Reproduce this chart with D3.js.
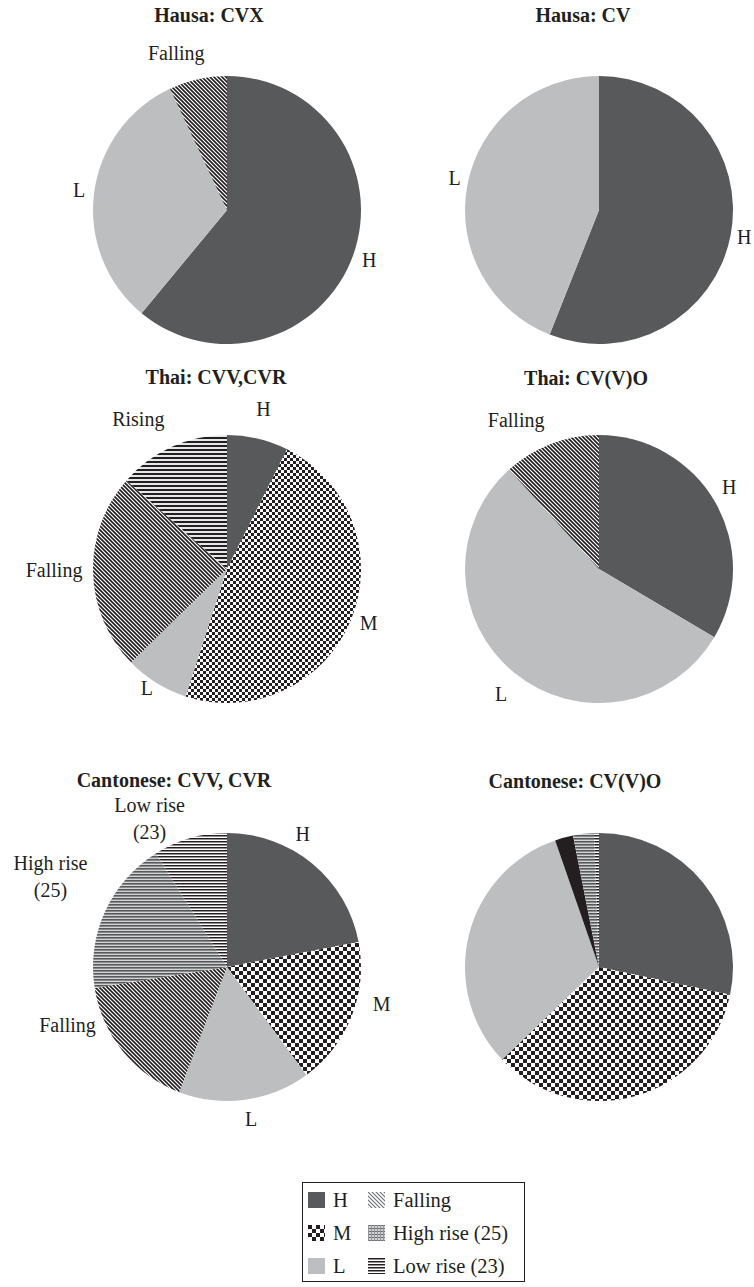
<!DOCTYPE html>
<html>
<head>
<meta charset="utf-8">
<script src="https://cdn.jsdelivr.net/npm/d3@7"></script>
<style>
  html, body { margin: 0; padding: 0; background: #fff; }
  svg text { fill: #231f20; font-size: 20px; }
  svg text.title { font-weight: bold; }
</style>
</head>
<body>
<svg id="chart" width="754" height="1287" font-family="'Liberation Serif', 'Times New Roman', Times, serif"></svg>
<script>
// Tone shares (%) per syllable type, clockwise from 12 o'clock
const hausaCVXTones = ["H", "L", "Falling"];
const hausaCVXShares = [61, 32, 7];

const hausaCVTones = ["H", "L"];
const hausaCVShares = [56, 44];

const thaiCVVTones = ["H", "M", "L", "Falling", "Rising"];
const thaiCVVShares = [7.4, 47.6, 7.7, 23.8, 13.5];

const thaiCVOTones = ["H", "L", "Falling"];
const thaiCVOShares = [33.5, 54.8, 11.7];

const cantoCVVTones = ["H", "M", "L", "Falling", "High rise (25)", "Low rise (23)"];
const cantoCVVShares = [22, 17.9, 15.9, 16.7, 18.6, 8.9];

const cantoCVOTones = ["H", "M", "L", "Falling", "High rise (25)", "Low rise (23)"];
const cantoCVOShares = [28.3, 34.5, 31.8, 2.2, 2.5, 0.6];

const panelTitles = ["Hausa: CVX", "Hausa: CV", "Thai: CVV,CVR", "Thai: CV(V)O",
                     "Cantonese: CVV, CVR", "Cantonese: CV(V)O"];

const legendTones = ["H", "M", "L", "Falling", "High rise (25)", "Low rise (23)"];

// ---- layout -------------------------------------------------------------
const R = 134;
const colX = [227, 599];
const rowY = [210, 569, 967];
const titlePos = [[209, 22], [583, 22], [216, 384], [586, 385], [174, 787], [575, 788]];
// fine adjustments of the outside slice labels (dx, dy)
const labelNudges = [
  [[1, -1], [1, -1], [-18, -11]],
  [[-2, -1], [3, -4]],
  [[2, -14], [3, -3], [-1, -8], [-23, -3], [-27, -13]],
  [[0, -8], [-3, 9], [-29, -9]],
  [[-20, -17], [15, -18], [4, 3], [-43, -37], [-40, -28], [-36, -4]],
  null
];

const panels = [
  { tones: hausaCVXTones, shares: hausaCVXShares, style: "plain" },
  { tones: hausaCVTones, shares: hausaCVShares, style: "plain" },
  { tones: thaiCVVTones, shares: thaiCVVShares, style: "fine" },
  { tones: thaiCVOTones, shares: thaiCVOShares, style: "fine" },
  { tones: cantoCVVTones, shares: cantoCVVShares, style: "coarse" },
  { tones: cantoCVOTones, shares: cantoCVOShares, style: "dark" }
].map((p, i) => ({
  ...p,
  title: panelTitles[i],
  titleAt: titlePos[i],
  cx: colX[i % 2],
  cy: rowY[Math.floor(i / 2)],
  nudges: labelNudges[i]
}));

const svg = d3.select("#chart");
const defs = svg.append("defs");
const INK = "#231f20";

// ---- fill patterns --------------------------------------------------------
function pattern(id, w, h, build) {
  const p = defs.append("pattern").attr("id", id)
    .attr("patternUnits", "userSpaceOnUse").attr("width", w).attr("height", h);
  build(p);
}
pattern("diag", 4, 4, p => {
  p.append("rect").attr("width", 4).attr("height", 4).attr("fill", "#fff");
  p.append("path").attr("d", "M-1,-1L5,5M-1,3L1,5M3,-1L5,1")
    .attr("stroke", INK).attr("stroke-width", 1.6);
});
pattern("diagLight", 4, 4, p => {
  p.append("rect").attr("width", 4).attr("height", 4).attr("fill", "#fff");
  p.append("path").attr("d", "M-1,-1L5,5M-1,3L1,5M3,-1L5,1")
    .attr("stroke", "#6d6e71").attr("stroke-width", 1.1);
});
pattern("checker4", 8, 8, p => {
  p.append("rect").attr("width", 8).attr("height", 8).attr("fill", "#fff");
  p.append("rect").attr("width", 4).attr("height", 4).attr("fill", INK);
  p.append("rect").attr("x", 4).attr("y", 4).attr("width", 4).attr("height", 4).attr("fill", INK);
});
pattern("checker3", 6, 6, p => {
  p.append("rect").attr("width", 6).attr("height", 6).attr("fill", "#fff");
  p.append("rect").attr("width", 3).attr("height", 3).attr("fill", INK);
  p.append("rect").attr("x", 3).attr("y", 3).attr("width", 3).attr("height", 3).attr("fill", INK);
});
pattern("hlines4", 4, 4, p => {
  p.append("rect").attr("width", 4).attr("height", 4).attr("fill", "#e6e7e8");
  p.append("rect").attr("width", 4).attr("height", 2).attr("fill", INK);
});
pattern("hlines3", 3, 3, p => {
  p.append("rect").attr("width", 3).attr("height", 3).attr("fill", "#fff");
  p.append("rect").attr("width", 3).attr("height", 1.5).attr("fill", INK);
});
pattern("hgray", 3, 3, p => {
  p.append("rect").attr("width", 3).attr("height", 3).attr("fill", "#d1d3d4");
  p.append("rect").attr("width", 3).attr("height", 1.6).attr("fill", "#58595b");
});
pattern("grid", 3, 3, p => {
  p.append("rect").attr("width", 3).attr("height", 3).attr("fill", "#d1d3d4");
  p.append("rect").attr("width", 3).attr("height", 1).attr("fill", "#6d6e71");
  p.append("rect").attr("width", 1).attr("height", 3).attr("fill", "#939598");
});

function fillFor(tone, style) {
  if (tone === "H") return "#58595b";
  if (tone === "L") return "#bcbec0";
  if (tone === "M") return style === "fine" ? "url(#checker3)" : "url(#checker4)";
  if (tone === "Falling") return style === "dark" ? INK : (style === "legend" ? "url(#diagLight)" : "url(#diag)");
  if (tone === "Rising") return "url(#hlines4)";
  if (tone.startsWith("High rise")) return style === "legend" ? "url(#grid)" : "url(#hgray)";
  if (tone.startsWith("Low rise")) return "url(#hlines3)";
  return "#999";
}

// ---- pies -----------------------------------------------------------------
const pie = d3.pie().sort(null).value(d => d.share);
const arc = d3.arc().innerRadius(0).outerRadius(R);
const labelArc = d3.arc().innerRadius(R + 16).outerRadius(R + 16);

panels.forEach(p => {
  const rows = p.tones.map((t, i) => ({ tone: t, share: p.shares[i] }));
  const slices = pie(rows);

  svg.append("text").attr("class", "title")
    .attr("x", p.titleAt[0]).attr("y", p.titleAt[1])
    .attr("text-anchor", "middle").text(p.title);

  const g = svg.append("g").attr("transform", `translate(${p.cx},${p.cy})`);
  g.selectAll("path").data(slices).join("path")
    .attr("d", arc)
    .attr("fill", d => fillFor(d.data.tone, p.style));

  if (!p.nudges) return;
  const labels = g.selectAll("text.slice").data(slices).join("text")
    .attr("class", "slice")
    .attr("text-anchor", "middle")
    .attr("transform", (d, i) => {
      const [x, y] = labelArc.centroid(d);
      return `translate(${x + p.nudges[i][0]},${y + p.nudges[i][1]})`;
    });
  labels.each(function (d) {
    const parts = d.data.tone.match(/^(.*?) (\(\d+\))$/);
    const lines = parts ? [parts[1], parts[2]] : [d.data.tone];
    const t = d3.select(this);
    lines.forEach((line, k) => {
      t.append("tspan").attr("x", 0)
        .attr("y", 7 + (k - (lines.length - 1) / 2) * 27)
        .text(line);
    });
  });
});

// ---- legend ---------------------------------------------------------------
const legend = svg.append("g").attr("transform", "translate(302,1182)");
legend.append("rect").attr("x", 0.5).attr("y", 0.5).attr("width", 222).attr("height", 99)
  .attr("fill", "#fff").attr("stroke", INK).attr("stroke-width", 1);
const item = legend.selectAll("g.item").data(legendTones).join("g")
  .attr("class", "item")
  .attr("transform", (d, i) => `translate(${6 + Math.floor(i / 3) * 60},${10 + (i % 3) * 33})`);
item.append("rect").attr("width", 17).attr("height", 16)
  .attr("fill", d => fillFor(d, "legend"));
item.append("text").attr("x", 25).attr("y", 15).style("font-size", "20.5px").text(d => d);
</script>
</body>
</html>
